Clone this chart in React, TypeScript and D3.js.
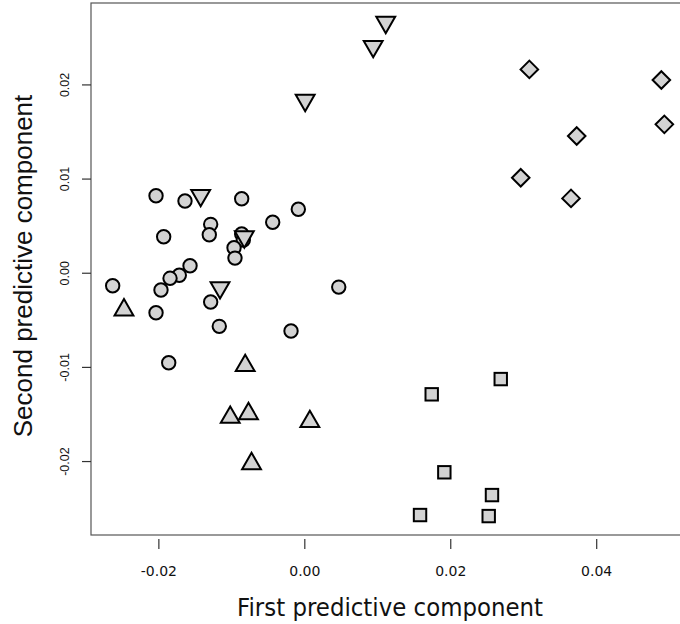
import React from "react";
import * as d3 from "d3";

// ---- data ----
const circleX = [-0.02039, -0.01642, -0.00865, -0.00089, -0.0044, -0.0129, -0.01309, -0.01934, -0.00865, -0.00843, -0.0097, -0.00957, -0.01573, -0.0172, -0.01847, -0.01971, -0.02633, 0.00465, -0.0129, -0.02039, -0.01172, -0.00189, -0.01865];
const circleY = [0.00823, 0.00767, 0.00791, 0.00679, 0.00541, 0.00519, 0.00409, 0.00388, 0.00416, 0.00353, 0.00271, 0.00161, 0.0008, -0.00022, -0.00054, -0.00178, -0.00133, -0.00147, -0.00306, -0.00419, -0.00564, -0.00614, -0.00951];

const downX = [0.01109, 0.00937, 0.00005, -0.01427, -0.00829, -0.01162];
const downY = [0.02665, 0.02409, 0.01837, 0.00826, 0.00387, -0.00153];

const upX = [-0.02478, -0.00817, -0.01022, -0.00772, 0.00069, -0.0073];
const upY = [-0.0039, -0.00981, -0.01531, -0.01492, -0.01575, -0.02023];

const squareX = [0.02685, 0.01739, 0.01912, 0.02565, 0.01579, 0.0252];
const squareY = [-0.01124, -0.01286, -0.02114, -0.02356, -0.02568, -0.02579];

const diamondX = [0.03077, 0.04886, 0.04927, 0.03726, 0.02959, 0.03648];
const diamondY = [0.02165, 0.02052, 0.01581, 0.01457, 0.01014, 0.00795];

const xTicks = [-0.02, 0.0, 0.02, 0.04];
const yTicks = [-0.02, -0.01, 0.0, 0.01, 0.02];
const xTitle = "First predictive component";
const yTitle = "Second predictive component";

// ---- layout ----
const W = 680;
const H = 624;
const L = 91, R = 685, T = 3, B = 535;

const x = d3.scaleLinear().domain([-0.0293, 0.0521]).range([L, R]);
const y = d3.scaleLinear().domain([-0.0278, 0.0287]).range([B, T]);

const rad = 7;
const FILL = "#d3d3d3";
const SW = 2;

const fmt = (v: number) => v.toFixed(2);

function triPath(cx: number, cy: number, up: boolean) {
  const r = 1.5551 * rad;
  const xc = 1.3468 * rad;
  const yc = 0.7776 * rad;
  const s = up ? 1 : -1;
  return `M${cx},${cy - s * r}L${cx + xc},${cy + s * yc}L${cx - xc},${cy + s * yc}Z`;
}

export default function App() {
  const circles = circleX.map((v, i) => [x(v), y(circleY[i])]);
  const downs = downX.map((v, i) => [x(v), y(downY[i])]);
  const ups = upX.map((v, i) => [x(v), y(upY[i])]);
  const squares = squareX.map((v, i) => [x(v), y(squareY[i])]);
  const diamonds = diamondX.map((v, i) => [x(v), y(diamondY[i])]);
  const sq = 0.8862 * rad;
  const dm = 1.2533 * rad;

  return (
    <svg
      width={W}
      height={H}
      style={{ position: "absolute", left: 0, top: 0, background: "#fff" }}
    >
      <rect x={0} y={0} width={W} height={H} fill="#fff" />
      {/* box */}
      <rect x={L} y={T} width={R - L} height={B - T} fill="none" stroke="#555" strokeWidth={1.2} />
      {/* x ticks */}
      {xTicks.map((t) => (
        <g key={"xt" + t}>
          <line x1={x(t)} x2={x(t)} y1={539} y2={549} stroke="#333" strokeWidth={1.2} />
          <text
            x={x(t)}
            y={576}
            textAnchor="middle"
            fontFamily="DejaVu Sans"
            fontSize={14}
            fill="#111"
          >
            {fmt(t)}
          </text>
        </g>
      ))}
      {/* y ticks */}
      {yTicks.map((t) => (
        <g key={"yt" + t}>
          <line x1={82} x2={L} y1={y(t)} y2={y(t)} stroke="#333" strokeWidth={1.2} />
          <text
            transform={`translate(69,${y(t)}) rotate(-90)`}
            textAnchor="middle"
            fontFamily="Liberation Sans, Arial"
            fontSize={12.5}
            fill="#111"
          >
            {fmt(t)}
          </text>
        </g>
      ))}
      <text
        x={390}
        y={616}
        textAnchor="middle"
        fontFamily="DejaVu Sans"
        fontSize={24}
        textLength={306}
        lengthAdjust="spacingAndGlyphs"
        fill="#111"
      >
        {xTitle}
      </text>
      <text
        transform={`translate(32,266) rotate(-90)`}
        textAnchor="middle"
        fontFamily="Liberation Sans, Arial"
        fontSize={26}
        fill="#111"
      >
        {yTitle}
      </text>
      <g stroke="#000" strokeWidth={SW} fill={FILL} strokeLinejoin="miter">
        {circles.map(([cx, cy], i) => (
          <circle key={"c" + i} cx={cx} cy={cy} r={rad - 0.3} />
        ))}
        {downs.map(([cx, cy], i) => (
          <path key={"d" + i} d={triPath(cx, cy, false)} />
        ))}
        {ups.map(([cx, cy], i) => (
          <path key={"u" + i} d={triPath(cx, cy, true)} />
        ))}
        {squares.map(([cx, cy], i) => (
          <rect key={"s" + i} x={cx - sq} y={cy - sq} width={2 * sq} height={2 * sq} />
        ))}
        {diamonds.map(([cx, cy], i) => (
          <path
            key={"m" + i}
            d={`M${cx},${cy - dm}L${cx + dm},${cy}L${cx},${cy + dm}L${cx - dm},${cy}Z`}
          />
        ))}
      </g>
    </svg>
  );
}
